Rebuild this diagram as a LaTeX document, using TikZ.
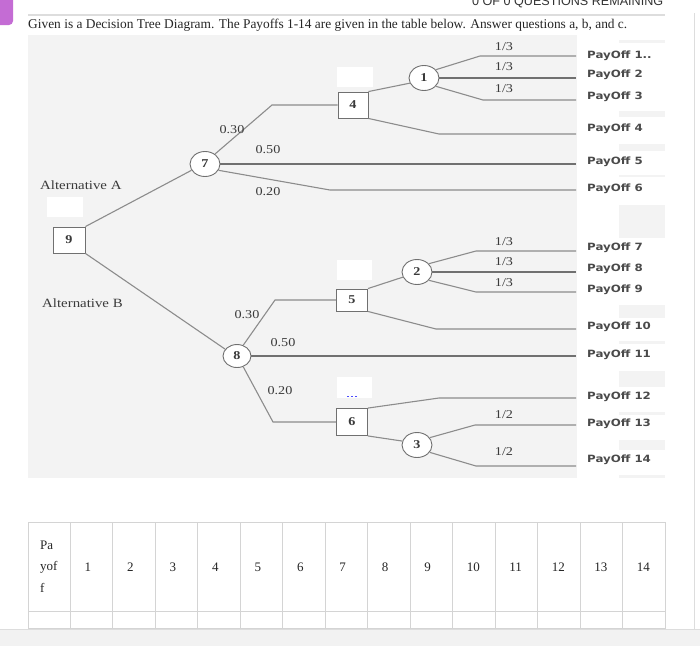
\documentclass[tikz,border=0pt]{standalone}
\usepackage{fontspec}
\setmainfont{Liberation Serif}
\newfontfamily\payfont{DejaVu Sans}
\newfontfamily\hdrfont{Liberation Sans}
\usetikzlibrary{shapes.geometric}
\newcommand{\hs}[1]{\scalebox{1.18}[1]{#1}}
\definecolor{bggray}{HTML}{F3F3F3}
\definecolor{linegray}{HTML}{8C8C8C}
\definecolor{darkline}{HTML}{707070}
\definecolor{boxgray}{HTML}{707070}
\definecolor{labgray}{HTML}{3A3A3A}
\definecolor{paygray}{HTML}{4A4A4A}
\definecolor{tablegray}{HTML}{D4D4D4}
\definecolor{rulegray}{HTML}{DDDDDD}
\definecolor{tabpurple}{HTML}{C46CD4}
\definecolor{barfill}{HTML}{F2F2F2}
\definecolor{hdrgray}{HTML}{333333}
\begin{document}
\begin{tikzpicture}[x=1pt,y=-1pt,
  treeline/.style={draw=linegray, line width=1.1pt},
  midline/.style={draw=darkline, line width=1.4pt},
  decbox/.style={draw=boxgray, fill=white, line width=0.9pt, minimum width=31pt, minimum height=26pt, inner sep=0pt, font=\fontsize{12}{12}\selectfont\bfseries, text=labgray},
  chance/.style={ellipse, draw=boxgray, fill=white, line width=0.9pt, minimum width=30pt, minimum height=25pt, inner sep=0pt, font=\fontsize{12}{12}\selectfont\bfseries, text=labgray},
  prob/.style={font=\fontsize{12}{12}\selectfont, text=labgray, inner sep=0pt},
  alt/.style={anchor=west, font=\fontsize{12.6}{13}\selectfont, text=labgray, inner sep=0pt},
  paylab/.style={anchor=west, font=\payfont\bfseries\fontsize{10}{10}\selectfont, text=paygray, inner sep=0pt},
  cell/.style={anchor=west, font=\fontsize{13}{13}\selectfont, text=black!85, inner sep=0pt}
]
\useasboundingbox (0,0) rectangle (700,646);
\fill[white] (0,0) rectangle (700,646);
% top strip
\fill[tabpurple, rounded corners=4pt] (-6,-6) rectangle (13,25);
\node[anchor=base west, inner sep=0pt, text=hdrgray] (hdr) at (472,5) {\resizebox{191pt}{!}{\hdrfont\fontsize{13}{13}\selectfont 0 OF 0 QUESTIONS REMAINING}};
\draw[rulegray, line width=1.2pt] (28,15) -- (665,15);
\node[anchor=base west, inner sep=0pt, text=black!85] (title) at (28,28) {\resizebox{599pt}{!}{\fontsize{13}{15}\selectfont Given is a Decision Tree Diagram. The Payoffs 1-14 are given in the table below. Answer questions a, b, and c.}};
\draw[rulegray, line width=1pt] (694,13) -- (694,629);

% diagram background
\fill[bggray] (28,35) rectangle (665,478);
\fill[white] (577,35) rectangle (665,478);
\foreach \a/\b in {40/43,111/117,144/151,175/177,205/238,305/318,341/344,371/387,412/415,440/450,475/478}
  \fill[bggray] (619,\a) rectangle (665,\b);
\fill[white] (47,197) rectangle (83,217);
\fill[white] (337,67) rectangle (373,87);
\fill[white] (337,260) rectangle (372,280);
\fill[white] (337,377) rectangle (372,398);
\draw[blue!70!white, line width=0.8pt, dash pattern=on 2pt off 2pt] (347,396) -- (357,396);

% nodes
\node[decbox, minimum width=32pt] (n9) at (69,240) {\hs{9}};
\node[chance] (c7) at (205,164) {\hs{7}};
\node[decbox, minimum width=30pt] (b4) at (353,105) {\hs{4}};
\node[chance] (c1) at (424,78) {\hs{1}};
\node[chance, minimum width=28pt, minimum height=23pt] (c8) at (237,356) {\hs{8}};
\node[decbox, minimum height=22pt] (b5) at (352,300) {\hs{5}};
\node[chance] (c2) at (417,272) {\hs{2}};
\node[decbox, minimum height=27pt] (b6) at (352,422) {\hs{6}};
\node[chance] (c3) at (417,445) {\hs{3}};

% end and bend coordinates
\coordinate (e1) at (576,56);
\coordinate (e2) at (576,78);
\coordinate (e3) at (576,100);
\coordinate (e4) at (576,134);
\coordinate (e5) at (576,164);
\coordinate (e6) at (576,190);
\coordinate (e7) at (576,251);
\coordinate (e8) at (576,272);
\coordinate (e9) at (576,292);
\coordinate (e10) at (576,329);
\coordinate (e11) at (576,356);
\coordinate (e12) at (576,398);
\coordinate (e13) at (576,425);
\coordinate (e14) at (576,466);
\coordinate (k4) at (272,105);
\coordinate (k6) at (330,190);
\coordinate (k1) at (480,56);
\coordinate (k3) at (483,100);
\coordinate (kp4) at (439,134);
\coordinate (k5) at (275,300);
\coordinate (k6b) at (273,422);
\coordinate (k7) at (476,251);
\coordinate (k9) at (476,292);
\coordinate (k10) at (436,329);
\coordinate (k12) at (439,398);
\coordinate (k13) at (475,425);
\coordinate (k14) at (476,466);

% connectors
\draw[treeline] (n9.north east) -- (c7.205);
\draw[treeline] (n9.south east) -- (c8.150);
\draw[treeline] (c7.45) -- (k4) -- (b4.west);
\draw[midline] (c7.east) -- (e5);
\draw[treeline] (c7.-25) -- (k6) -- (e6);
\draw[treeline] (b4.north east) -- (c1.200);
\draw[treeline] (b4.south east) -- (kp4) -- (e4);
\draw[treeline] (c1.35) -- (k1) -- (e1);
\draw[midline] (c1.east) -- (e2);
\draw[treeline] (c1.-35) -- (k3) -- (e3);
\draw[treeline] (c8.60) -- (k5) -- (b5.west);
\draw[midline] (c8.east) -- (e11);
\draw[treeline] (c8.-60) -- (k6b) -- (b6.west);
\draw[treeline] (b5.north east) -- (c2.200);
\draw[treeline] (b5.south east) -- (k10) -- (e10);
\draw[treeline] (c2.35) -- (k7) -- (e7);
\draw[midline] (c2.east) -- (e8);
\draw[treeline] (c2.-35) -- (k9) -- (e9);
\draw[treeline] (b6.north east) -- (k12) -- (e12);
\draw[treeline] (b6.south east) -- (c3.165);
\draw[treeline] (c3.30) -- (k13) -- (e13);
\draw[treeline] (c3.-30) -- (k14) -- (e14);

% probabilities
\node[prob] (pa1) at (232,130) {\hs{0.30}};
\node[prob] (pa2) at (268,150) {\hs{0.50}};
\node[prob] (pa3) at (268,192) {\hs{0.20}};
\node[prob] (pb1) at (247,315) {\hs{0.30}};
\node[prob] (pb2) at (283,343) {\hs{0.50}};
\node[prob] (pb3) at (280,391) {\hs{0.20}};
\node[prob] (q1) at (504,47) {\hs{1/3}};
\node[prob] (q2) at (504,67) {\hs{1/3}};
\node[prob] (q3) at (504,89) {\hs{1/3}};
\node[prob] (q7) at (504,242) {\hs{1/3}};
\node[prob] (q8) at (504,262) {\hs{1/3}};
\node[prob] (q9) at (504,283) {\hs{1/3}};
\node[prob] (q13) at (504,415) {\hs{1/2}};
\node[prob] (q14) at (504,452) {\hs{1/2}};

\node[alt] (altA) at (40,185) {\hs{Alternative A}};
\node[alt] (altB) at (42,303) {\hs{Alternative B}};

% payoff labels
\node[paylab] (L1) at (587,56) {\hs{PayOff 1..}};
\node[paylab] (L2) at (587,75) {\hs{PayOff 2}};
\node[paylab] (L3) at (587,97) {\hs{PayOff 3}};
\node[paylab] (L4) at (587,129) {\hs{PayOff 4}};
\node[paylab] (L5) at (587,162) {\hs{PayOff 5}};
\node[paylab] (L6) at (587,189) {\hs{PayOff 6}};
\node[paylab] (L7) at (587,248) {\hs{PayOff 7}};
\node[paylab] (L8) at (587,269) {\hs{PayOff 8}};
\node[paylab] (L9) at (587,290) {\hs{PayOff 9}};
\node[paylab] (L10) at (587,327) {\hs{PayOff 10}};
\node[paylab] (L11) at (587,355) {\hs{PayOff 11}};
\node[paylab] (L12) at (587,397) {\hs{PayOff 12}};
\node[paylab] (L13) at (587,424) {\hs{PayOff 13}};
\node[paylab] (L14) at (587,460) {\hs{PayOff 14}};

% table
\draw[tablegray, line width=1pt] (28,522) rectangle (665,628);
\draw[tablegray, line width=1pt] (28,611) -- (665,611);
\foreach \k in {1,...,14}
  \draw[tablegray, line width=1pt] ({28+42.467*\k},522) -- ({28+42.467*\k},628);
\node[cell] (hPa) at (40,545) {Pa};
\node[cell] (hyof) at (40,567) {yof};
\node[cell] (hf) at (40,588) {f};
\foreach \k in {1,...,14}
  \node[cell] (h\k) at ({28+42.467*\k+14},567) {\k};

% bottom bar
\fill[barfill] (0,629) rectangle (700,646);
\draw[rulegray, line width=0.8pt] (0,629) -- (700,629);
\end{tikzpicture}
\end{document}
